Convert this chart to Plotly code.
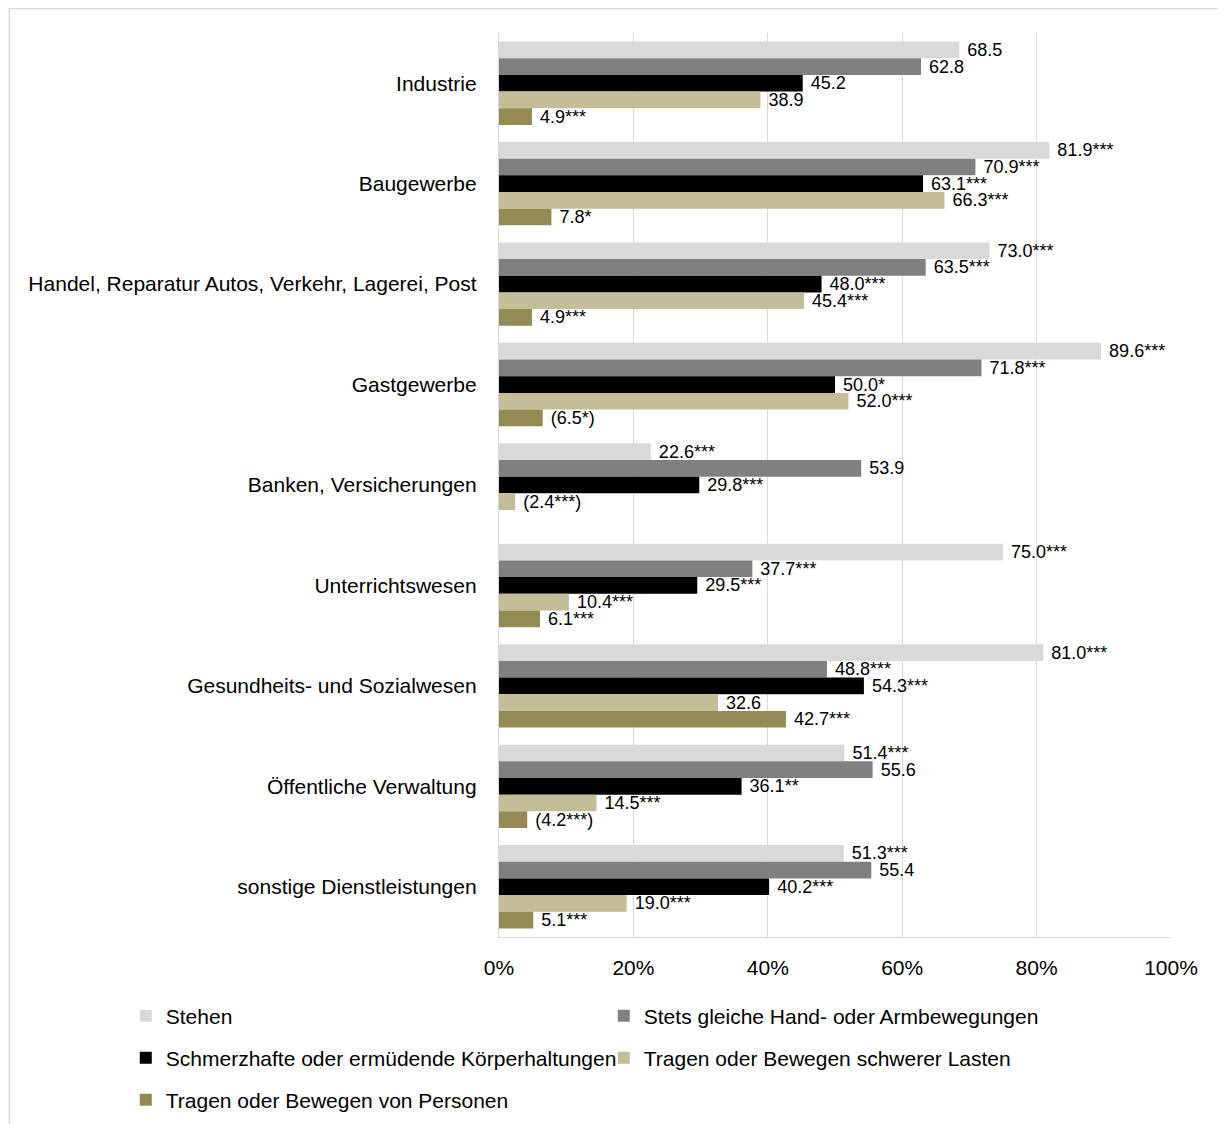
import plotly.graph_objects as go

categories = [
    "Industrie",
    "Baugewerbe",
    "Handel, Reparatur Autos, Verkehr, Lagerei, Post",
    "Gastgewerbe",
    "Banken, Versicherungen",
    "Unterrichtswesen",
    "Gesundheits- und Sozialwesen",
    "Öffentliche Verwaltung",
    "sonstige Dienstleistungen",
]

series_names = [
    "Stehen",
    "Stets gleiche Hand- oder Armbewegungen",
    "Schmerzhafte oder ermüdende Körperhaltungen",
    "Tragen oder Bewegen schwerer Lasten",
    "Tragen oder Bewegen von Personen",
]

stehen = [68.5, 81.9, 73.0, 89.6, 22.6, 75.0, 81.0, 51.4, 51.3]
stehen_labels = ["68.5", "81.9***", "73.0***", "89.6***", "22.6***", "75.0***", "81.0***", "51.4***", "51.3***"]

hand_arm = [62.8, 70.9, 63.5, 71.8, 53.9, 37.7, 48.8, 55.6, 55.4]
hand_arm_labels = ["62.8", "70.9***", "63.5***", "71.8***", "53.9", "37.7***", "48.8***", "55.6", "55.4"]

koerper = [45.2, 63.1, 48.0, 50.0, 29.8, 29.5, 54.3, 36.1, 40.2]
koerper_labels = ["45.2", "63.1***", "48.0***", "50.0*", "29.8***", "29.5***", "54.3***", "36.1**", "40.2***"]

lasten = [38.9, 66.3, 45.4, 52.0, 2.4, 10.4, 32.6, 14.5, 19.0]
lasten_labels = ["38.9", "66.3***", "45.4***", "52.0***", "(2.4***)", "10.4***", "32.6", "14.5***", "19.0***"]

personen = [4.9, 7.8, 4.9, 6.5, None, 6.1, 42.7, 4.2, 5.1]
personen_labels = ["4.9***", "7.8*", "4.9***", "(6.5*)", "", "6.1***", "42.7***", "(4.2***)", "5.1***"]

x_ticks = [0, 20, 40, 60, 80, 100]

values = [stehen, hand_arm, koerper, lasten, personen]
labels = [stehen_labels, hand_arm_labels, koerper_labels, lasten_labels, personen_labels]
colors = ["#D9D9D9", "#808080", "#000000", "#C4BD97", "#948A54"]
legend_ids = ["legend", "legend", "legend2", "legend2", "legend3"]

FONT = "Liberation Sans, Arial, sans-serif"

fig = go.Figure()
for name, vals, labs, col, lg in zip(series_names, values, labels, colors, legend_ids):
    fig.add_trace(go.Bar(
        y=categories,
        x=vals,
        name=name,
        orientation="h",
        marker=dict(color=col, line=dict(width=0)),
        text=[(" " + t) if t else "" for t in labs],
        textposition="outside",
        textfont=dict(family=FONT, size=18, color="#000000"),
        cliponaxis=False,
        constraintext="none",
        legend=lg,
        hoverinfo="skip",
    ))

# page is offset by the 8px body margin; work in page pixels and convert
OFF = 8
PAGE_W, PAGE_H = 1226, 1124
W, H = PAGE_W - OFF, PAGE_H - OFF          # figure fits the window without scrollbars
PL, PR, PT, PB = 498.5, 1171, 33, 937      # plot area in page pixels
L, T = PL - OFF, PT - OFF
R, B = (W + OFF) - PR, (H + OFF) - PB
pw, ph = PR - PL, PB - PT

def px_x(p):
    return (p - PL) / pw

def px_y(p):
    return (PB - p) / ph

legend_common = dict(
    orientation="h",
    xanchor="left",
    yanchor="middle",
    entrywidth=433,
    entrywidthmode="pixels",
    font=dict(family=FONT, size=21, color="#000000"),
    bgcolor="rgba(0,0,0,0)",
    traceorder="normal",
)

fig.update_layout(
    width=W,
    height=H,
    margin=dict(l=L, r=R, t=T, b=B, autoexpand=False),
    paper_bgcolor="#FFFFFF",
    plot_bgcolor="#FFFFFF",
    barmode="group",
    bargap=0.17,
    bargroupgap=0,
    font=dict(family=FONT, size=21, color="#000000"),
    xaxis=dict(
        range=[0, 100],
        tickvals=x_ticks,
        ticktext=[f"{v}%" for v in x_ticks],
        showgrid=True,
        gridcolor="#D9D9D9",
        gridwidth=1.3,
        zeroline=False,
        showline=True,
        linecolor="#D9D9D9",
        linewidth=1.3,
        ticks="",
        ticklabelstandoff=12,
        automargin=False,
        tickfont=dict(family=FONT, size=21, color="#000000"),
    ),
    yaxis=dict(
        type="category",
        autorange="reversed",
        showgrid=False,
        zeroline=False,
        showline=True,
        linecolor="#D9D9D9",
        linewidth=1.3,
        ticks="",
        ticklabelstandoff=17,
        automargin=False,
        tickfont=dict(family=FONT, size=21, color="#000000"),
    ),
    legend=dict(legend_common, x=px_x(125), y=px_y(1016)),
    legend2=dict(legend_common, x=px_x(125), y=px_y(1058)),
    legend3=dict(legend_common, x=px_x(125), y=px_y(1100)),
    shapes=[dict(
        type="rect", xref="paper", yref="paper",
        x0=px_x(8.5), x1=px_x(1222.5), y0=px_y(1150), y1=px_y(8.5),
        line=dict(color="#D9D9D9", width=1.5),
        fillcolor="rgba(0,0,0,0)",
        layer="below",
    )],
)

fig.write_html("out.html")
